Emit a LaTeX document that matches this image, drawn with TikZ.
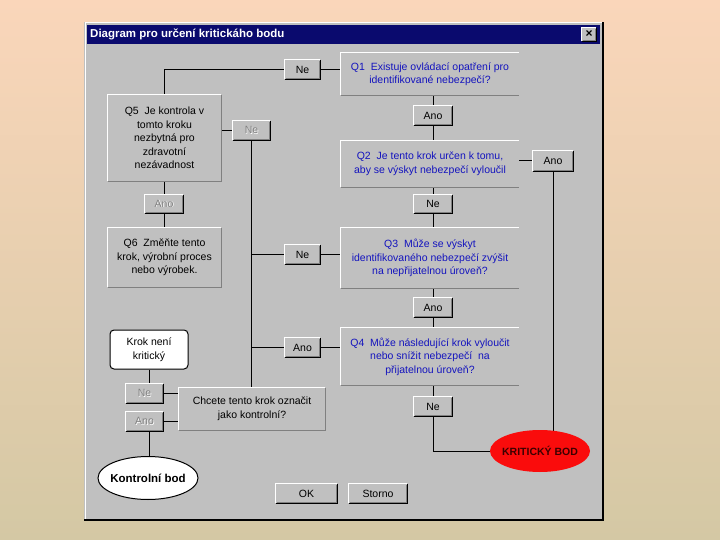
\documentclass[tikz,border=0pt]{standalone}
\usepackage{fontspec}
\setmainfont{Liberation Sans}
\usetikzlibrary{shapes.geometric}
\definecolor{win}{RGB}{192,192,192}
\definecolor{dk}{RGB}{128,128,128}
\definecolor{navy}{RGB}{10,10,110}
\definecolor{qblue}{RGB}{20,20,190}
\definecolor{kritfill}{RGB}{250,12,12}
\definecolor{krittext}{RGB}{60,0,0}
\definecolor{disab}{RGB}{128,128,128}
\definecolor{bgtop}{RGB}{250,214,186}
\definecolor{bgmid}{RGB}{242,232,214}
\definecolor{bgbot}{RGB}{212,200,164}
\pgfdeclarelayer{bg}\pgfdeclarelayer{lines}\pgfsetlayers{bg,lines,main}
\newcommand\distext[1]{\leavevmode\rlap{\kern0.8pt\raisebox{-0.8pt}{\textcolor{white}{#1}}}\textcolor{disab}{#1}}
\newcommand\btnframe[1]{%
 \draw[white,line width=1pt] (#1.south west) -- (#1.north west) -- (#1.north east);
 \draw[black,line width=1pt] (#1.south west) -- (#1.south east) -- (#1.north east);
 \draw[dk,line width=1pt] ([shift={(1,-1)}]#1.south west) -- ([shift={(-1,-1)}]#1.south east) -- ([shift={(-1,1)}]#1.north east);}
\newcommand\qframe[1]{%
 \draw[white,line width=1pt] (#1.south west) -- (#1.north west) -- (#1.north east);
 \draw[dk,line width=1pt] (#1.south west) -- (#1.south east);}
\newcommand\gframe[1]{%
 \draw[white,line width=1pt] (#1.south west) -- (#1.north west) -- (#1.north east);
 \draw[dk,line width=1pt] (#1.south west) -- (#1.south east) -- (#1.north east);}
\tikzset{
 btn/.style={rectangle, fill=win, inner sep=0pt, minimum height=19pt, font=\fontsize{10.5}{12}\selectfont},
 qbox/.style={rectangle, fill=win, inner sep=0pt, align=center, text=qblue, font=\fontsize{10.5}{13.5}\selectfont},
 gbox/.style={qbox, text=black},
 conn/.style={draw=black, line width=1pt}
}
\begin{document}
\begin{tikzpicture}[x=1pt,y=-1pt]
\useasboundingbox (0,0) rectangle (720,540);
\begin{pgfonlayer}{bg}
 \shade[top color=bgtop, middle color=bgmid, bottom color=bgbot] (0,0) rectangle (720,540);
 \fill[win] (84,22) rectangle (603,520);
 \draw[white,line width=1pt] (85,520) -- (85,23) -- (603,23);
 \draw[black,line width=1.2pt] (84,520) -- (603,520) -- (603,22);
 \fill[navy] (87,25) rectangle (600,44);
\end{pgfonlayer}
\node[anchor=west, text=white, font=\fontsize{11.5}{13}\selectfont\bfseries, inner sep=0pt] (title) at (90,34.5) {Diagram pro určení kritickáho bodu};
\node[btn, minimum width=14pt, minimum height=13pt, font=\fontsize{12}{12}\selectfont\bfseries] (close) at (589,34.5) {×};
% questions
\node[qbox, minimum width=178pt, minimum height=42pt] (q1) at (430,74) {Q1\ \ Existuje ovládací opatření pro\\identifikované nebezpečí?};
\node[qbox, minimum width=178pt, minimum height=46pt] (q2) at (430,164) {Q2\ \ Je tento krok určen k tomu,\\aby se výskyt nebezpečí vyloučil};
\node[qbox, minimum width=178pt, minimum height=60pt] (q3) at (430,258) {Q3\ \ Může se výskyt\\identifikovaného nebezpečí zvýšit\\na nepřijatelnou úroveň?};
\node[qbox, minimum width=178pt, minimum height=57pt] (q4) at (430,356.5) {Q4\ \ Může následující krok vyloučit\\nebo snížit nebezpečí\ \ na\\přijatelnou úroveň?};
\node[gbox, minimum width=113pt, minimum height=86pt] (q5) at (164.5,138) {Q5\ \ Je kontrola v\\tomto kroku\\nezbytná pro\\zdravotní\\nezávadnost};
\node[gbox, minimum width=113pt, minimum height=59pt] (q6) at (164.5,257.5) {Q6\ \ Změňte tento\\krok, výrobní proces\\nebo výrobek.};
\node[gbox, minimum width=146pt, minimum height=42pt] (chc) at (252,409) {Chcete tento krok označit\\jako kontrolní?};
\node[rectangle, rounded corners=4pt, draw=black, line width=1pt, fill=white, align=center, inner sep=0pt, minimum width=78pt, minimum height=39pt, font=\fontsize{10.5}{13.5}\selectfont] (krok) at (149,349.5) {Krok není\\kritický};
\node[ellipse, draw=black, line width=1pt, fill=white, inner ysep=0pt, inner xsep=-3pt, minimum width=100pt, minimum height=43pt, font=\fontsize{11.5}{13}\selectfont\bfseries] (kb) at (148,478) {Kontrolní bod};
\node[ellipse, fill=kritfill, inner ysep=0pt, inner xsep=-5pt, minimum width=100pt, minimum height=42pt, text=krittext, font=\fontsize{10.5}{12}\selectfont\bfseries] (krit) at (540,451) {KRITICKÝ BOD};
% buttons
\node[btn, minimum width=35pt] (neTop) at (302.5,69.5) {Ne};
\node[btn, minimum width=38pt] (anoQ1) at (433,115.5) {Ano};
\node[btn, minimum width=40pt, minimum height=20pt] (anoR) at (553,161) {Ano};
\node[btn, minimum width=38pt, minimum height=18pt] (neQ2) at (433,204) {Ne};
\node[btn, minimum width=35pt] (neQ3) at (302.5,254.5) {Ne};
\node[btn, minimum width=38pt] (anoQ3) at (433,307.5) {Ano};
\node[btn, minimum width=35pt] (anoQ4) at (302.5,347.5) {Ano};
\node[btn, minimum width=38pt] (neQ4) at (433,406.5) {Ne};
\node[btn, minimum width=37pt] (neQ5) at (251.5,130.5) {\distext{Ne}};
\node[btn, minimum width=38pt, minimum height=18pt] (anoQ5) at (164,204) {\distext{Ano}};
\node[btn, minimum width=37pt] (neK) at (144.5,393.5) {\distext{Ne}};
\node[btn, minimum width=37pt] (anoK) at (144.5,421.5) {\distext{Ano}};
\node[btn, minimum width=61pt] (ok) at (306.5,493.5) {OK};
\node[btn, minimum width=58pt] (storno) at (378,493.5) {Storno};
% frames
\foreach \b in {close,neTop,anoQ1,anoR,neQ2,neQ3,anoQ3,anoQ4,neQ4,neQ5,anoQ5,neK,anoK,ok,storno}{\btnframe{\b}}
\foreach \b in {q1,q2,q3,q4}{\qframe{\b}}
\foreach \b in {q5,q6,chc}{\gframe{\b}}
% connectors
\begin{pgfonlayer}{lines}
 \draw[conn] (neTop.west) -| (q5.north);
 \draw[conn] (neTop.east) -- (neTop.east -| q1.west);
 \draw[conn] (anoQ1.north |- q1.south) -- (anoQ1.north);
 \draw[conn] (anoQ1.south) -- (anoQ1.south |- q2.north);
 \draw[conn] (anoR.west -| q2.east) -- (anoR.west);
 \draw[conn] (anoR.south) -- ([yshift=-1pt]anoR.south |- krit.north);
 \draw[conn] (neQ2.north |- q2.south) -- (neQ2.north);
 \draw[conn] (neQ2.south) -- (neQ2.south |- q3.north);
 \draw[conn] (neQ3.east) -- (neQ3.east -| q3.west);
 \draw[conn] (neQ3.west) -- (neQ3.west -| neQ5.south);
 \draw[conn] (anoQ3.north |- q3.south) -- (anoQ3.north);
 \draw[conn] (anoQ3.south) -- (anoQ3.south |- q4.north);
 \draw[conn] (anoQ4.east) -- (anoQ4.east -| q4.west);
 \draw[conn] (anoQ4.west) -- (anoQ4.west -| neQ5.south);
 \draw[conn] (neQ4.north |- q4.south) -- (neQ4.north);
 \draw[conn] (neQ4.south) |- (krit.west);
 \draw[conn] (neQ5.west -| q5.east) -- (neQ5.west);
 \draw[conn] (neQ5.south) -- (neQ5.south |- chc.north);
 \draw[conn] (anoQ5.north |- q5.south) -- (anoQ5.north);
 \draw[conn] (anoQ5.south) -- (anoQ5.south |- q6.north);
 \draw[conn] (krok.south) -- (krok.south |- neK.north);
 \draw[conn] (neK.east) -- (neK.east -| chc.west);
 \draw[conn] (anoK.east) -- (anoK.east -| chc.west);
 \draw[conn] (krok.south |- anoK.south) -- (krok.south |- kb.north);
\end{pgfonlayer}
\end{tikzpicture}
\end{document}
